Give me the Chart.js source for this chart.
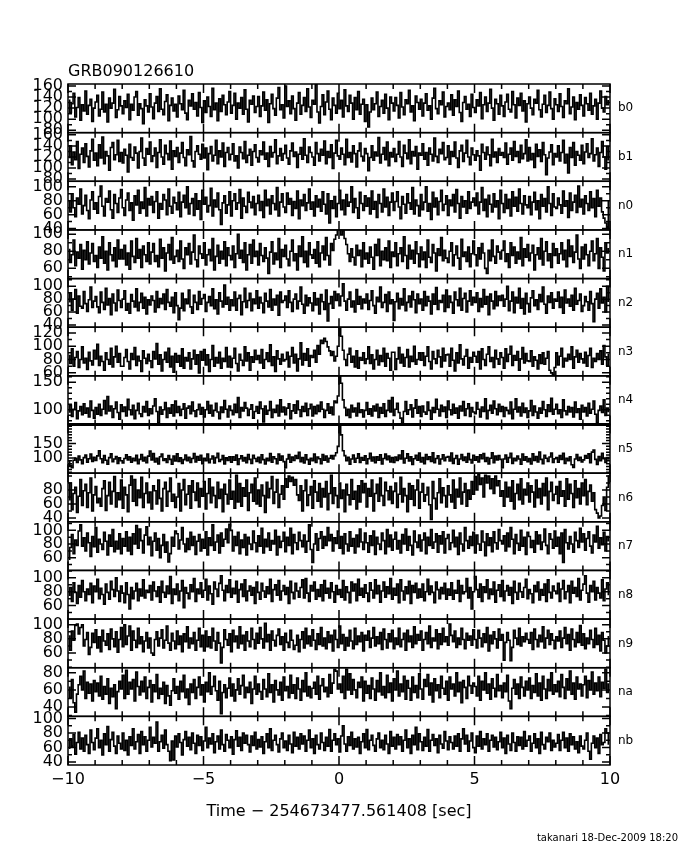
<!DOCTYPE html>
<html>
<head>
<meta charset="utf-8">
<script src="https://cdn.jsdelivr.net/npm/chart.js@4/dist/chart.umd.min.js"></script>
<style>
  html, body { margin: 0; padding: 0; background: #fff; }
</style>
</head>
<body>
<canvas id="lc" width="680" height="850"></canvas>
<script>
const plotTitle = "GRB090126610";
const xTitle = "Time \u2212 254673477.561408 [sec]";
const footer = "takanari 18-Dec-2009 18:20";

const detectors = ["b0", "b1", "n0", "n1", "n2", "n3", "n4", "n5", "n6", "n7", "n8", "n9", "na", "nb"];
const tStart = -10;
const binWidth = 0.0625;
const xTicks = [-10, -5, 0, 5, 10];
const yMin = [75.6, 76, 38, 48, 36.4, 55.5, 73.4, 47, 34.7, 41.5, 40.5, 39.2, 29, 36];
const yMax = [163.6, 164, 108, 105, 112, 128.5, 161.5, 216, 104, 112.5, 110.7, 108, 86, 103];
const yLabels = [
  [80, 100, 120, 140, 160], [80, 100, 120, 140, 160], [40, 60, 80, 100], [60, 80, 100],
  [40, 60, 80, 100], [60, 80, 100, 120], [100, 150], [100, 150], [40, 60, 80],
  [60, 80, 100], [60, 80, 100], [60, 80, 100], [40, 60, 80], [40, 60, 80, 100]
];
const yMinorStep = [10, 10, 10, 10, 10, 10, 10, 10, 10, 10, 10, 10, 10, 10];

// counts per 1/16 s bin, one row per second
const b0 = [
  134,112,128,147,104,121,139,98,126,115,151,109,125,136,96,120,
  131,143,106,118,149,113,127,95,138,120,129,154,103,117,141,124,
  110,133,121,145,99,127,116,140,150,107,128,119,92,135,124,113,
  146,122,101,129,141,114,155,118,108,132,144,97,125,138,115,127,
  104,142,128,117,152,111,99,134,124,146,118,130,106,148,121,94,
  133,112,140,123,105,156,117,129,97,137,114,143,126,108,131,150,
  111,125,147,100,129,120,139,109,153,118,95,134,127,142,112,123,
  141,105,124,149,116,135,94,128,145,119,107,138,157,117,126,102,
  160,123,133,110,142,119,98,129,148,109,125,139,114,155,122,103,
  134,127,163,113,93,123,144,108,131,151,118,99,138,125,111,147,
  119,134,104,153,124,114,143,129,100,139,117,150,109,127,136,96,
  126,86,113,138,117,128,149,105,123,134,111,145,120,99,140,129,
  115,139,125,102,148,122,108,135,128,152,113,124,97,142,130,118,
  136,106,129,146,116,124,100,138,156,119,110,133,126,149,104,123,
  129,117,144,107,135,123,151,112,96,130,141,118,127,105,145,121,
  112,135,124,148,101,126,140,114,129,154,120,98,136,128,109,143,
  124,105,131,145,118,113,150,126,102,138,125,147,115,133,95,128,
  140,120,108,136,129,152,117,104,127,143,112,125,149,119,100,137,
  126,114,146,123,103,133,128,155,110,122,140,99,130,118,144,125,
  106,139,128,116,147,109,124,136,100,129,151,120,113,141,126,133];
const b1 = [
  119,140,106,129,115,148,99,125,136,110,144,121,102,131,152,114,
  127,104,142,118,156,108,130,122,96,137,146,115,124,150,112,128,
  109,134,123,93,143,119,114,138,127,100,130,154,118,105,135,125,
  147,112,122,136,101,128,151,120,107,141,126,115,149,98,131,121,
  137,110,127,146,119,104,133,124,157,113,102,130,140,125,116,143,
  118,136,97,126,139,113,123,150,108,131,120,145,103,128,137,115,
  125,144,113,122,100,138,128,117,148,110,123,134,105,130,142,119,
  111,131,124,147,116,127,103,139,120,128,151,108,122,135,114,126,
  141,118,107,131,145,121,129,101,125,137,116,153,123,110,138,128,
  120,105,146,126,113,134,123,149,108,130,119,142,99,127,150,122,
  116,136,125,106,152,119,128,111,140,126,102,131,145,121,113,135,
  126,95,119,140,114,129,122,155,109,125,137,115,147,104,128,120,
  135,112,125,148,120,103,141,127,117,151,108,130,122,139,98,127,
  123,144,116,128,105,136,125,113,154,121,110,134,126,146,115,119,
  140,107,130,121,147,118,101,131,141,112,127,150,120,106,136,124,
  114,131,122,96,143,128,116,138,124,104,152,120,129,110,135,123,
  128,119,145,107,125,136,114,148,121,130,110,141,117,126,151,113,
  137,115,126,101,143,121,133,112,146,124,88,118,129,142,106,126,
  120,140,113,128,150,109,125,91,137,119,146,105,130,123,114,141,
  108,129,144,119,126,153,113,124,136,103,128,148,120,98,139,115];
const n0 = [
  79,64,90,70,57,84,75,97,61,73,88,66,54,81,93,68,
  77,62,86,101,72,58,83,78,94,67,55,89,76,63,84,96,
  70,59,81,91,66,77,52,87,74,95,62,78,69,99,58,83,
  74,86,63,79,93,55,76,68,89,81,60,97,72,62,85,77,
  67,92,57,78,88,70,100,61,76,83,59,90,68,80,53,95,
  75,85,64,73,98,58,81,71,91,67,46,77,87,62,74,93,
  58,80,90,68,77,96,55,84,72,63,92,78,70,86,60,76,
  88,66,79,56,95,73,82,61,87,76,67,99,58,78,90,71,
  63,91,75,83,59,79,69,94,54,81,73,89,66,77,97,68,
  78,58,87,71,82,65,93,75,61,90,48,80,69,86,57,76,
  95,67,81,60,89,72,78,100,63,83,70,55,92,76,66,87,
  72,84,61,94,68,79,56,89,76,64,97,71,85,59,78,91,
  66,79,93,71,54,86,75,62,90,77,68,99,61,81,73,58,
  89,67,78,100,65,76,53,92,71,84,60,79,95,66,75,87,
  59,81,73,89,64,96,76,55,86,71,80,62,93,69,78,84,
  73,91,61,78,99,66,82,57,88,75,64,90,71,80,54,95,
  76,63,89,69,82,58,93,72,85,65,97,76,61,87,74,70,
  86,60,78,92,67,80,54,89,72,83,64,100,76,59,90,71,
  69,84,74,62,94,72,80,56,91,66,78,88,63,101,71,82,
  61,87,76,66,93,70,83,57,95,72,84,64,55,48,42,80];
const n1 = [
  82,67,76,93,63,79,72,88,59,81,70,91,65,78,89,68,
  75,61,85,72,97,66,80,58,90,76,69,84,62,93,71,82,
  71,87,64,78,59,92,74,67,95,72,82,61,86,76,68,90,
  65,79,89,68,75,62,94,72,84,57,78,88,70,96,66,74,
  81,68,92,71,60,84,76,89,65,79,99,70,62,86,77,72,
  90,64,76,82,69,95,58,74,87,66,80,71,91,63,84,75,
  70,86,61,77,100,72,81,67,90,58,76,88,66,93,74,80,
  64,89,75,68,84,72,54,79,91,65,78,70,95,61,82,74,
  87,71,63,80,93,69,77,58,86,74,97,67,80,62,90,76,
  72,82,66,91,62,78,86,70,96,75,64,89,81,94,99,106,
  108,99,104,95,88,77,68,83,73,64,87,75,81,62,90,71,
  78,66,85,73,59,88,75,94,63,80,70,84,69,92,61,79,
  74,90,63,77,84,68,97,75,60,87,71,81,66,91,77,62,
  85,70,79,61,93,73,67,88,78,57,83,75,96,69,81,72,
  67,80,90,63,76,86,72,59,94,74,79,68,85,62,77,92,
  76,63,84,71,89,78,60,54,81,69,93,74,66,86,79,71,
  81,92,68,77,61,90,75,85,66,79,71,96,63,83,73,88,
  69,78,87,58,76,84,71,95,64,80,91,69,77,61,89,75,
  83,66,77,90,70,81,62,93,74,86,67,79,99,71,60,85,
  71,88,76,63,80,92,69,77,95,60,84,73,57,90,78,83];
const n2 = [
  76,90,63,80,95,58,85,69,66,92,73,61,79,99,67,77,
  84,68,59,91,75,64,97,71,81,56,88,74,62,94,78,67,
  80,93,63,73,58,87,77,68,96,62,75,89,66,83,57,79,
  71,85,78,60,92,67,81,73,88,64,95,75,69,83,59,90,
  70,48,66,89,62,80,73,94,68,58,86,75,64,92,72,81,
  87,61,75,84,70,96,65,79,57,90,77,68,102,72,83,63,
  79,70,91,63,81,86,56,76,97,67,78,89,62,80,73,93,
  66,83,74,59,89,77,68,95,63,80,71,86,55,91,75,78,
  85,67,93,75,61,80,88,65,77,99,72,58,86,70,82,74,
  62,90,71,81,57,87,76,64,94,46,73,84,66,92,78,88,
  70,85,104,77,63,80,91,68,77,60,95,72,84,65,80,74,
  88,64,78,93,70,58,83,76,99,67,75,87,61,91,73,79,
  47,76,89,65,81,71,96,62,75,85,68,92,79,59,88,73,
  80,63,92,70,84,77,57,88,72,98,64,78,75,86,61,94,
  67,85,75,58,91,79,70,97,63,81,89,60,77,93,71,83,
  75,90,61,81,68,95,72,84,56,88,77,65,92,70,85,78,
  86,69,80,100,62,77,91,59,83,74,97,66,81,57,89,73,
  60,82,93,70,79,64,87,76,99,72,58,85,75,90,66,80,
  77,91,67,83,58,94,74,80,69,86,63,97,72,78,88,61,
  70,84,76,63,92,73,45,80,89,66,96,74,83,60,100,77];
const n3 = [
  86,74,96,70,83,92,68,80,99,75,82,65,91,78,72,94,
  81,103,71,85,77,64,90,80,73,97,69,84,100,76,89,70,
  70,83,95,77,66,89,80,98,71,85,78,62,93,82,74,88,
  78,68,92,81,104,73,87,63,80,91,76,97,69,85,61,89,
  76,86,70,96,67,83,78,90,66,81,94,73,87,60,92,79,
  95,72,87,62,80,101,70,83,75,91,67,82,77,98,69,85,
  68,82,97,74,63,88,79,71,99,78,90,64,84,76,94,80,
  86,75,95,67,80,90,77,102,71,84,62,93,81,73,88,78,
  80,91,69,85,98,75,88,63,81,105,72,89,79,96,70,86,
  83,94,76,101,88,109,104,112,107,99,93,86,92,78,85,100,
  138,115,94,80,71,88,97,76,85,69,93,67,83,79,90,74,
  81,99,74,87,66,80,94,72,86,77,97,70,89,82,64,91,
  91,65,81,98,75,88,70,83,95,69,85,77,100,73,80,90,
  79,90,71,85,99,77,66,92,81,74,94,84,69,97,78,87,
  88,70,97,79,63,90,75,102,81,72,85,95,67,83,76,91,
  85,76,92,66,96,80,71,88,99,77,83,68,94,81,73,90,
  83,67,96,77,88,100,71,86,79,92,64,81,98,75,89,78,
  77,93,70,84,79,66,87,74,90,73,82,92,64,60,57,68,
  90,72,85,97,69,82,78,88,80,99,67,84,94,76,89,81,
  75,91,70,86,97,68,82,77,89,80,93,73,101,84,71,88];
const n4 = [
  96,108,88,101,113,84,98,106,91,111,94,103,87,116,99,85,
  104,92,110,90,101,117,93,124,98,107,86,102,114,95,83,109,
  97,105,89,119,100,91,108,84,99,112,93,88,106,96,115,90,
  102,93,107,120,97,76,105,92,100,113,86,103,94,109,89,116,
  95,106,90,101,111,85,103,107,93,114,98,88,100,110,92,104,
  87,100,115,94,108,89,99,112,96,84,105,95,117,101,87,107,
  99,91,110,95,122,86,104,98,113,103,90,101,109,85,97,106,
  94,114,102,78,107,92,99,115,86,101,95,108,89,118,96,105,
  91,103,111,84,98,109,94,116,100,88,106,97,112,90,102,110,
  89,106,93,108,97,114,101,86,99,111,94,105,91,116,113,125,
  180,148,118,104,90,101,86,108,96,103,89,112,95,100,87,99,
  113,92,102,89,107,98,110,86,104,94,111,88,99,117,96,122,
  90,101,112,95,85,75,97,115,92,100,109,87,103,118,94,106,
  88,107,96,92,114,99,83,104,95,119,101,89,108,97,105,86,
  116,100,91,110,94,103,85,107,98,115,90,102,111,88,104,96,
  93,113,101,87,105,97,120,84,99,108,94,116,102,91,110,97,
  106,88,104,99,93,114,84,101,120,96,105,89,112,95,103,86,
  98,117,90,107,96,85,103,94,115,100,88,109,97,121,92,101,
  110,93,100,86,118,98,91,106,96,104,87,114,95,102,83,108,
  96,104,89,112,94,101,116,92,76,99,107,95,118,90,103,97];
const n5 = [
  86,74,66,92,99,84,106,93,80,101,110,85,97,113,88,102,
  91,107,125,97,83,108,92,78,101,114,87,96,105,81,100,90,
  82,98,111,93,104,85,99,90,109,80,95,112,89,102,83,106,
  124,93,115,86,99,79,104,113,91,97,84,108,95,78,106,89,
  114,88,100,81,94,110,90,102,84,98,115,86,105,92,109,80,
  99,90,113,83,96,106,82,101,116,88,94,108,79,100,91,104,
  85,104,92,110,77,97,107,89,101,83,112,95,81,109,98,88,
  102,83,111,94,79,99,90,115,85,104,97,80,113,92,106,87,
  66,96,112,85,103,91,108,98,119,87,101,82,111,94,78,99,
  90,113,84,103,97,80,112,92,106,86,99,108,96,108,118,140,
  260,180,125,108,90,102,78,96,110,85,99,114,84,101,92,107,
  80,97,116,89,103,83,104,92,111,79,98,113,94,106,86,101,
  84,103,91,110,96,125,82,99,114,89,104,77,97,109,92,117,
  86,101,80,112,95,104,88,118,83,98,107,79,96,111,90,102,
  105,89,117,81,98,108,78,96,112,91,103,85,115,94,82,109,
  92,104,86,111,97,115,88,101,79,99,118,83,106,93,108,95,
  66,96,110,85,101,116,81,99,90,106,96,78,113,92,104,87,
  98,79,114,91,105,86,120,95,80,109,99,88,103,117,84,97,
  101,85,108,95,116,81,99,90,104,76,67,96,112,91,102,86,
  93,108,99,114,83,120,127,95,77,105,90,116,97,84,101,96];
const n6 = [
  66,90,52,75,84,48,71,95,58,79,88,55,76,97,50,73,
  85,62,68,57,82,93,51,72,91,60,78,99,56,76,66,94,
  54,84,73,49,87,100,64,95,58,80,69,98,55,75,90,62,
  77,53,86,79,60,94,68,50,82,91,57,78,97,64,74,55,
  70,89,50,80,95,59,74,86,54,93,77,65,90,56,82,71,
  92,53,75,96,62,84,72,55,91,68,81,49,88,74,60,94,
  67,78,54,101,63,89,57,83,71,94,51,76,88,64,97,60,
  80,57,87,72,48,91,69,82,99,61,77,95,55,74,86,67,
  96,84,100,92,98,87,95,73,65,86,50,79,94,58,73,85,
  54,93,77,64,89,56,82,70,92,52,75,101,61,83,72,55,
  90,68,80,49,88,73,59,95,67,78,53,86,63,93,76,89,
  56,82,71,94,50,75,88,64,97,72,58,91,79,66,85,61,
  78,90,55,74,98,63,82,72,49,89,67,86,58,80,94,54,
  77,89,64,73,84,59,38,92,68,53,76,96,62,83,72,56,
  86,73,63,94,54,81,70,97,60,77,89,57,80,67,92,74,
  99,80,102,88,97,70,101,90,100,82,96,75,100,86,93,71,
  79,57,91,70,84,64,93,53,75,88,66,96,60,81,73,90,
  63,86,77,56,94,69,82,60,89,72,97,52,78,91,65,74,
  85,61,92,71,79,57,96,67,88,75,55,93,69,82,60,90,
  72,95,59,78,87,64,76,52,47,40,43,58,70,51,84,100];
const n7 = [
  58,75,94,66,86,78,99,108,77,89,70,96,82,62,91,76,
  104,68,87,80,72,97,84,64,93,77,101,69,84,73,95,66,
  88,77,98,70,90,65,95,80,107,74,102,85,67,93,105,79,
  90,63,84,96,71,88,60,78,94,68,83,54,66,90,77,99,
  95,73,86,104,80,69,88,72,97,78,91,65,84,94,70,87,
  74,98,64,89,78,108,71,83,93,67,96,77,87,102,82,109,
  100,70,91,78,97,66,86,75,94,64,90,80,72,99,82,69,
  92,77,103,67,87,76,96,71,85,80,100,64,91,75,84,97,
  69,90,78,103,66,94,82,72,97,85,76,93,68,84,108,72,
  53,80,95,71,88,98,74,91,78,104,85,94,70,89,81,99,
  74,91,66,95,80,70,98,77,88,67,93,76,102,83,72,96,
  82,68,92,78,99,65,90,80,72,96,85,66,101,76,93,71,
  87,97,73,85,67,94,80,102,71,91,78,64,99,83,75,93,
  70,86,96,66,90,78,101,74,83,95,68,92,80,98,67,88,
  94,72,82,100,76,90,65,96,80,70,104,85,74,91,78,97,
  67,93,80,71,99,83,63,95,78,89,69,98,82,73,101,85,
  80,92,70,96,76,104,87,66,94,81,71,100,77,90,65,97,
  91,75,85,68,98,80,93,72,83,102,78,66,95,87,74,99,
  77,90,66,96,53,101,82,73,91,80,68,97,85,75,103,83,
  95,71,88,98,77,67,93,83,106,74,89,79,97,70,91,85];
const n8 = [
  75,86,66,93,79,63,89,72,96,80,67,84,76,92,64,88,
  80,98,70,85,76,62,91,79,69,95,83,73,100,81,66,88,
  78,64,93,76,55,86,70,81,92,67,84,74,97,71,82,79,
  89,68,94,81,73,87,65,95,79,72,88,77,102,63,84,76,
  91,67,81,96,57,86,78,70,90,80,99,66,84,77,93,72,
  82,98,68,88,77,62,94,84,73,92,103,82,67,89,79,97,
  72,85,77,95,65,83,91,73,97,67,81,88,75,86,63,94,
  79,69,92,81,72,87,77,98,66,83,90,75,96,68,81,89,
  76,86,63,95,79,70,92,81,72,86,97,71,99,78,66,89,
  81,94,69,83,73,90,67,96,78,85,71,93,80,65,89,76,
  83,72,96,68,87,79,64,94,81,91,67,98,75,85,72,90,
  78,66,93,82,71,97,77,89,65,81,94,72,87,77,99,69,
  85,75,91,64,97,81,68,87,77,95,63,89,79,92,71,84,
  72,91,67,80,98,76,88,79,64,94,83,70,86,77,92,69,
  84,75,93,69,82,78,96,66,89,77,80,99,71,86,55,80,
  102,83,72,91,66,87,79,97,70,84,76,94,65,82,90,73,
  96,67,81,89,75,86,63,95,79,69,92,80,72,86,98,70,
  83,77,64,89,80,94,68,83,75,91,66,97,79,71,88,81,
  77,92,66,84,96,70,80,89,64,95,78,86,73,99,68,82,
  91,103,78,65,89,80,95,68,86,78,71,97,67,84,93,76];
const n9 = [
  84,64,91,78,99,101,87,96,100,70,79,89,58,68,88,75,
  93,67,83,62,92,77,71,87,65,94,80,69,90,61,79,96,
  69,100,72,84,98,64,91,78,68,95,73,83,62,77,89,67,
  81,60,57,79,90,70,81,93,67,78,98,74,64,88,77,66,
  91,72,84,62,87,76,97,67,81,73,89,64,78,95,69,85,
  63,91,69,83,67,95,77,64,89,74,46,68,93,79,71,87,
  62,92,76,84,67,97,73,85,64,90,77,69,95,79,66,88,
  74,96,80,67,102,76,86,64,91,78,70,85,94,72,83,64,
  88,75,68,92,78,65,71,85,62,79,90,67,95,73,84,70,
  93,78,65,87,72,96,70,81,66,90,75,85,63,92,79,68,
  98,73,86,64,82,70,92,77,66,95,72,84,76,89,63,85,
  78,91,68,81,96,70,83,73,89,65,94,79,67,87,76,92,
  66,81,72,95,69,79,88,64,92,76,84,68,97,73,86,78,
  91,64,79,89,73,98,68,81,77,93,66,87,72,95,76,83,
  71,101,85,76,91,68,81,72,95,79,66,88,78,84,71,93,
  79,67,92,81,69,87,75,96,63,85,73,90,80,67,94,78,
  86,50,75,89,78,49,68,92,81,72,95,70,83,76,88,79,
  74,89,65,94,79,69,85,76,97,67,81,92,72,87,78,66,
  83,77,91,68,81,96,73,86,64,94,79,69,89,75,99,71,
  87,66,81,73,92,79,68,95,72,85,63,89,78,60,70,83];
const na = [
  63,51,72,45,34,55,66,76,60,82,50,69,56,67,47,71,
  58,68,53,76,49,64,55,73,44,62,52,66,38,58,70,61,
  77,50,83,55,69,61,72,47,81,64,54,70,58,75,50,63,
  71,46,66,58,78,50,62,55,69,44,65,53,42,59,73,56,
  64,49,70,58,77,51,61,43,67,57,72,50,63,75,54,66,
  46,69,58,80,55,64,76,59,48,70,32,57,66,51,62,74,
  53,67,47,60,73,55,65,77,51,63,57,69,44,61,76,55,
  67,58,49,72,61,52,79,57,66,46,71,60,54,69,48,75,
  59,64,51,77,56,66,50,74,61,48,71,58,80,53,64,51,
  62,69,55,76,49,65,73,58,63,52,78,56,68,84,82,61,
  67,57,76,50,84,60,79,55,72,60,51,69,63,75,47,70,
  56,65,50,74,61,48,71,58,80,54,64,51,77,57,68,47,
  73,60,82,53,67,58,76,49,71,62,48,75,57,65,51,79,
  61,49,72,64,78,54,68,46,73,59,66,51,76,62,55,70,
  48,75,61,67,53,80,58,69,45,71,63,50,76,65,56,68,
  64,53,76,48,70,60,80,56,67,49,73,62,52,78,59,65,
  51,68,58,77,47,38,62,72,55,67,50,75,63,53,70,60,
  74,50,65,57,79,53,68,48,76,61,50,72,59,80,55,66,
  58,70,52,78,63,50,73,60,82,55,68,49,75,61,67,53,
  66,76,51,71,60,81,55,68,59,75,52,69,62,84,57,67];
const nb = [
  59,72,62,78,51,67,81,58,73,55,77,64,52,84,67,57,
  73,86,60,70,50,79,64,89,55,71,81,62,52,76,66,58,
  80,56,70,50,75,63,86,58,68,78,52,82,64,75,55,70,
  88,61,74,66,95,55,68,77,59,84,64,55,42,69,43,76,
  61,79,67,50,71,82,62,74,57,80,66,52,77,63,75,56,
  69,88,60,73,65,79,53,68,76,58,84,64,55,78,70,60,
  75,51,71,83,62,74,56,80,66,77,64,54,76,63,81,58,
  71,61,75,52,68,79,60,86,56,70,77,64,54,72,80,60,
  69,56,77,65,53,81,62,74,58,79,65,76,55,70,84,60,
  72,52,77,64,58,80,67,56,74,62,85,55,70,79,64,72,
  54,76,90,65,55,75,63,81,58,72,61,74,52,68,79,60,
  85,57,70,77,63,55,72,80,60,70,57,77,65,52,82,62,
  74,58,78,64,75,55,70,84,60,72,52,77,64,88,57,79,
  68,56,74,62,85,55,70,78,63,72,53,77,65,59,82,69,
  57,75,67,58,76,62,79,55,72,86,65,77,55,69,80,60,
  53,76,62,82,58,72,64,79,55,70,77,61,74,57,68,81,
  60,73,52,77,65,56,80,67,55,75,63,74,58,82,62,70,
  76,55,66,79,60,72,52,81,64,58,74,68,80,56,70,61,
  66,78,56,70,81,60,73,55,79,64,75,58,68,53,76,62,
  58,70,80,55,44,66,76,60,73,52,78,64,67,86,80,65];

const series = [b0, b1, n0, n1, n2, n3, n4, n5, n6, n7, n8, n9, na, nb];

const FONT = "'DejaVu Sans', sans-serif";

// clip every light curve to its own panel, then draw frames, ticks and texts
const panelPlugin = {
  id: "panels",
  beforeDatasetDraw(chart, args) {
    const ys = chart.scales[args.meta.yAxisID];
    const a = chart.chartArea;
    chart.ctx.save();
    chart.ctx.beginPath();
    chart.ctx.rect(a.left, ys.top, a.right - a.left, ys.bottom - ys.top);
    chart.ctx.clip();
  },
  afterDatasetDraw(chart) {
    chart.ctx.restore();
  },
  afterDraw(chart) {
    const ctx = chart.ctx;
    const a = chart.chartArea;
    const xs = chart.scales.x;
    ctx.save();
    ctx.strokeStyle = "#000";
    ctx.fillStyle = "#000";
    ctx.lineWidth = 1.5;
    detectors.forEach((name, i) => {
      const ys = chart.scales["y" + i];
      ctx.strokeRect(a.left, ys.top, a.right - a.left, ys.bottom - ys.top);
      ctx.beginPath();
      for (let t = xs.min; t <= xs.max; t++) {
        const px = xs.getPixelForValue(t);
        const len = t % 5 === 0 ? 9 : 5;
        ctx.moveTo(px, ys.top); ctx.lineTo(px, ys.top + len);
        ctx.moveTo(px, ys.bottom); ctx.lineTo(px, ys.bottom - len);
      }
      const step = yMinorStep[i];
      for (let v = Math.ceil(ys.min / step) * step; v <= ys.max; v += step) {
        const py = ys.getPixelForValue(v);
        const len = yLabels[i].includes(v) ? 8 : 4;
        ctx.moveTo(a.left, py); ctx.lineTo(a.left + len, py);
        ctx.moveTo(a.right, py); ctx.lineTo(a.right - len, py);
      }
      ctx.stroke();
      ctx.font = "12px " + FONT;
      ctx.textAlign = "left";
      ctx.textBaseline = "middle";
      ctx.fillText(name, a.right + 8, (ys.top + ys.bottom) / 2);
    });

    // the n4 / n5 border is drawn heavier in the original
    const y5 = chart.scales.y7;
    ctx.lineWidth = 3;
    ctx.beginPath();
    ctx.moveTo(a.left, y5.top);
    ctx.lineTo(a.right, y5.top);
    ctx.stroke();

    ctx.font = "16px " + FONT;
    ctx.textAlign = "left";
    ctx.textBaseline = "alphabetic";
    ctx.fillText(plotTitle, a.left, a.top - 8);

    ctx.textAlign = "center";
    ctx.textBaseline = "middle";
    ctx.fillText(xTitle, (a.left + a.right) / 2, 812);

    ctx.font = "10px " + FONT;
    ctx.textAlign = "right";
    ctx.fillText(footer, 678, 838);
    ctx.restore();
  }
};

const scales = {
  x: {
    type: "linear",
    position: "bottom",
    min: -10,
    max: 10,
    grid: { display: false, drawTicks: false },
    border: { display: false },
    afterBuildTicks: s => { s.ticks = xTicks.map(v => ({ value: v })); },
    afterFit: s => { s.height = 85; },
    ticks: {
      autoSkip: false,
      maxRotation: 0,
      padding: 5,
      color: "#000",
      font: { family: FONT, size: 16 },
      callback: v => (v < 0 ? "\u2212" + Math.abs(v) : String(v))
    }
  }
};
// stacked left axes: the last one added ends up on top
for (let i = detectors.length - 1; i >= 0; i--) {
  scales["y" + i] = {
    type: "linear",
    position: "left",
    stack: "panels",
    stackWeight: 1,
    min: yMin[i],
    max: yMax[i],
    grid: { display: false, drawTicks: false },
    border: { display: false },
    afterBuildTicks: s => { s.ticks = yLabels[i].map(v => ({ value: v })); },
    afterFit: s => { s.width = 68; },
    ticks: {
      autoSkip: false,
      padding: 5,
      color: "#000",
      font: { family: FONT, size: 16 }
    }
  };
}

const datasets = series.map((vals, i) => ({
  label: detectors[i],
  xAxisID: "x",
  yAxisID: "y" + i,
  data: vals.map((v, k) => ({ x: tStart + (k + 0.5) * binWidth, y: v })),
  stepped: "middle",
  borderColor: "#000",
  borderWidth: 1.6,
  pointRadius: 0,
  fill: false
}));

new Chart(document.getElementById("lc").getContext("2d"), {
  type: "line",
  data: { datasets: datasets },
  options: {
    responsive: false,
    animation: false,
    layout: { padding: { top: 84, right: 70, left: 0, bottom: 0 } },
    plugins: { legend: { display: false }, tooltip: { enabled: false } },
    scales: scales
  },
  plugins: [panelPlugin]
});
</script>
</body>
</html>
